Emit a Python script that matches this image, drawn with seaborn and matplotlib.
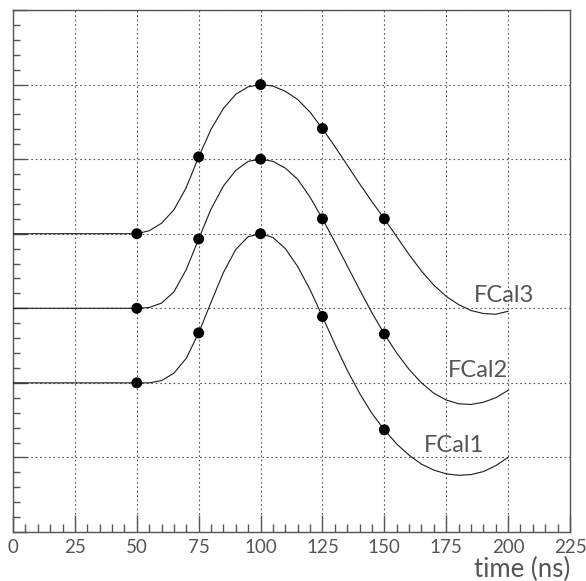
import numpy as np
import pandas as pd
import seaborn as sns
import matplotlib
matplotlib.use('Agg')
import matplotlib.pyplot as plt
from matplotlib.ticker import MultipleLocator

# time axis (ns), curves every 5 ns
time_ns = [0, 5, 10, 15, 20, 25, 30, 35, 40, 45, 50, 55, 60, 65, 70, 75, 80, 85, 90, 95,
           100, 105, 110, 115, 120, 125, 130, 135, 140, 145, 150, 155, 160, 165, 170, 175,
           180, 185, 190, 195, 200]

fcal1 = [2.0, 2.0, 2.0, 2.0, 2.0, 2.0, 2.0, 2.0, 2.0, 2.0, 2.0, 2.0, 2.03, 2.13, 2.33, 2.67,
         3.08, 3.48, 3.79, 3.96, 4.0, 3.95, 3.8, 3.56, 3.25, 2.89, 2.52, 2.17, 1.86, 1.59,
         1.37, 1.18, 1.03, 0.91, 0.83, 0.78, 0.76, 0.77, 0.81, 0.89, 1.0]
fcal2 = [3.0, 3.0, 3.0, 3.0, 3.0, 3.0, 3.0, 3.0, 3.0, 3.0, 3.0, 3.01, 3.07, 3.22, 3.52, 3.93,
         4.33, 4.64, 4.85, 4.97, 5.0, 4.97, 4.88, 4.73, 4.49, 4.2, 3.89, 3.57, 3.25, 2.94,
         2.655, 2.4, 2.18, 2.0, 1.86, 1.77, 1.72, 1.71, 1.74, 1.8, 1.9]
fcal3 = [4.0, 4.0, 4.0, 4.0, 4.0, 4.0, 4.0, 4.0, 4.0, 4.0, 4.0, 4.04, 4.14, 4.32, 4.62, 5.03,
         5.4, 5.68, 5.87, 5.97, 6.0, 5.98, 5.91, 5.8, 5.63, 5.41, 5.17, 4.92, 4.67, 4.43,
         4.2, 3.96, 3.72, 3.5, 3.31, 3.16, 3.05, 2.97, 2.93, 2.92, 2.96]

# sampled points (dots)
sample_ns = [50, 75, 100, 125, 150]
fcal1_pts = [2.0, 2.67, 4.0, 2.89, 1.37]
fcal2_pts = [3.0, 3.93, 5.0, 4.2, 2.655]
fcal3_pts = [4.0, 5.03, 6.0, 5.41, 4.2]

labels = ['FCal1', 'FCal2', 'FCal3']
label_pos = [(166.0, 1.02), (175.8, 2.02), (186.2, 3.03)]

curves = pd.concat([
    pd.DataFrame({'time': time_ns, 'signal': y, 'det': name})
    for name, y in zip(labels, [fcal1, fcal2, fcal3])
])
points = pd.concat([
    pd.DataFrame({'time': sample_ns, 'signal': y, 'det': name})
    for name, y in zip(labels, [fcal1_pts, fcal2_pts, fcal3_pts])
])

sns.set_style('white')
plt.rcParams['font.family'] = ['Lato', 'DejaVu Sans']

fig = plt.figure(figsize=(5.86, 5.81), dpi=100)
ax = fig.add_axes([13 / 586, 49 / 581, 557 / 586, 522 / 581])

sns.lineplot(data=curves, x='time', y='signal', hue='det', estimator=None,
             palette=['#1a1a1a'] * 3, linewidth=0.8, legend=False, ax=ax, zorder=3)
sns.scatterplot(data=points, x='time', y='signal', hue='det',
                palette=['black'] * 3, s=62, edgecolor='black', linewidth=0,
                legend=False, ax=ax, zorder=4)

for name, (tx, ty) in zip(labels, label_pos):
    ax.text(tx, ty, name, fontsize=17, color='#555555', ha='left', va='bottom', zorder=5)

ax.set_xlim(0, 225)
ax.set_ylim(0, 7)
ax.xaxis.set_major_locator(MultipleLocator(25))
ax.xaxis.set_minor_locator(MultipleLocator(5))
ax.yaxis.set_major_locator(MultipleLocator(1))
ax.yaxis.set_minor_locator(MultipleLocator(0.2))
ax.tick_params(axis='both', which='both', direction='in', color='#555555', width=1.0,
               bottom=True, left=True, top=False, right=False)
ax.tick_params(axis='x', which='major', length=12, labelsize=13.5, labelcolor='#555555', pad=5)
ax.tick_params(axis='x', which='minor', length=6)
ax.tick_params(axis='y', which='major', length=10, labelleft=False)
ax.tick_params(axis='y', which='minor', length=5)

ax.grid(True, which='major', linestyle=(0, (1.5, 2.5)), color='#555555', linewidth=0.8)
for sp in ax.spines.values():
    sp.set_color('#555555')
    sp.set_linewidth(1.0)

ax.set_xlabel('time (ns)', fontsize=18.5, color='#555555', loc='right', labelpad=1)
ax.set_ylabel('')

fig.savefig('out.png', dpi=100)
